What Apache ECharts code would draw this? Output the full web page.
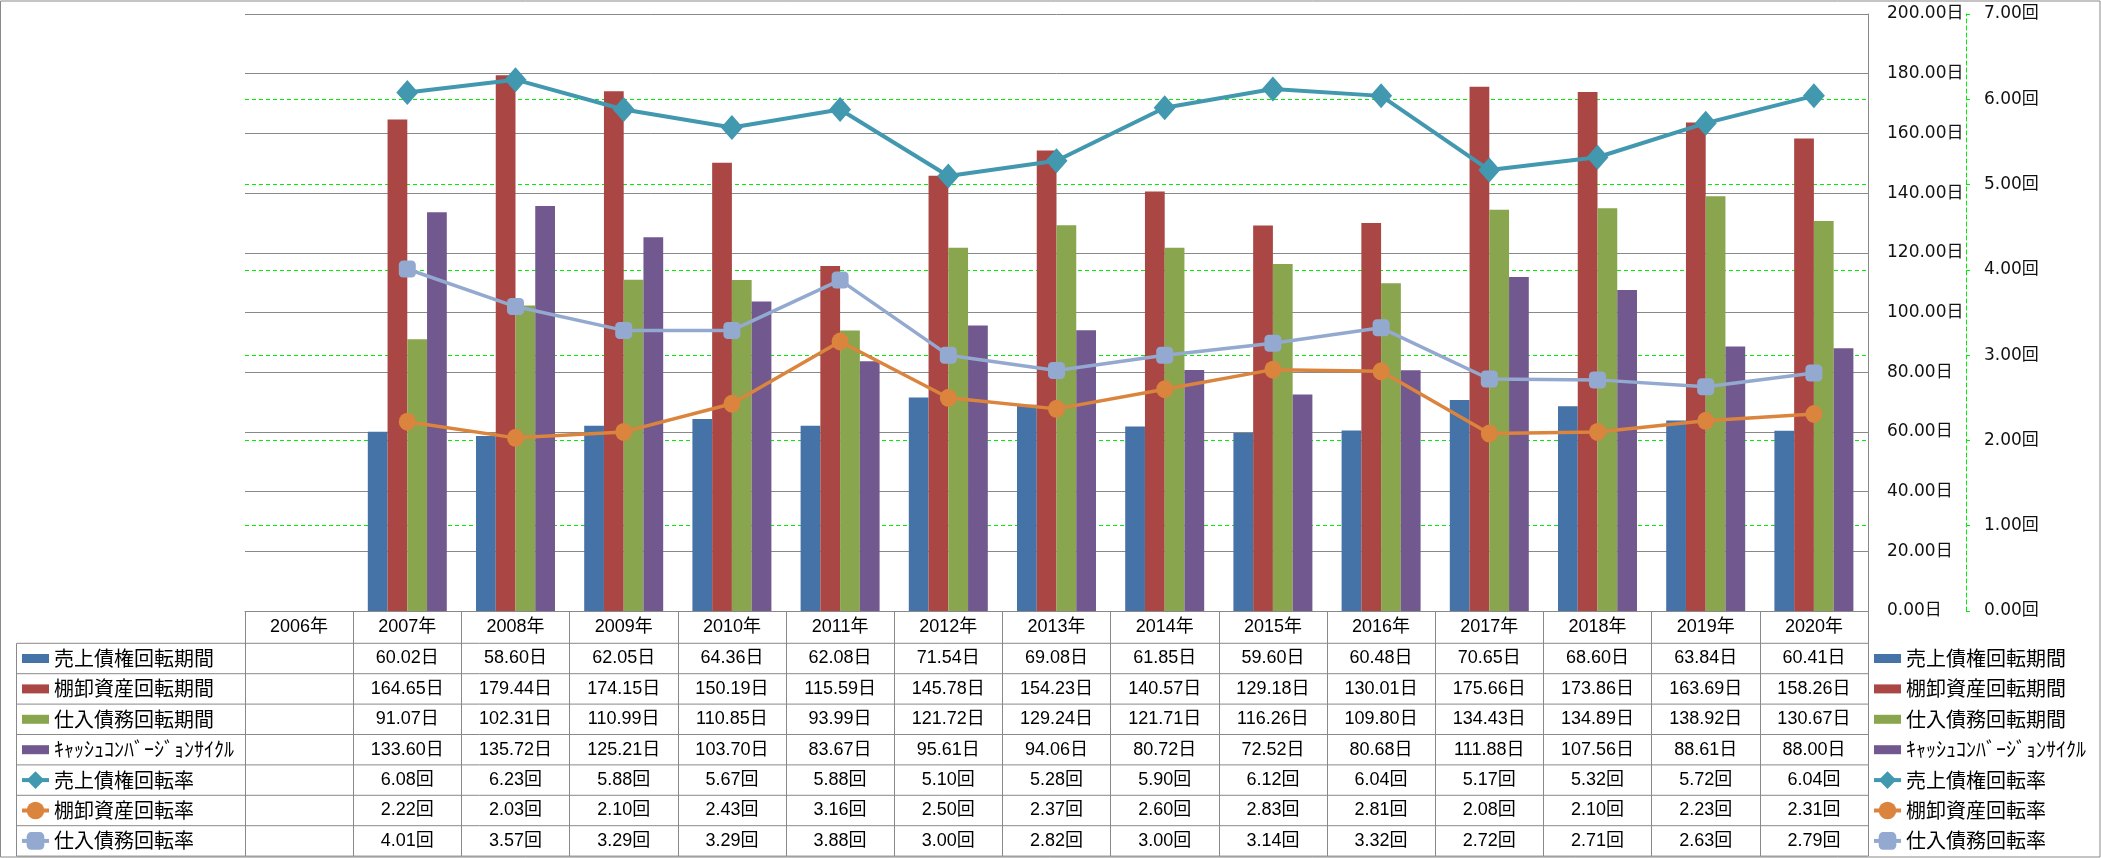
<!DOCTYPE html>
<html><head><meta charset="utf-8">
<script src="https://cdn.jsdelivr.net/npm/echarts@6/dist/echarts.min.js"></script>
<style>html,body{margin:0;padding:0;background:#fff}#c{width:2101px;height:858px}</style>
</head><body><div id="c"></div>
<script>
// ---- data ----
const years = ['2006年','2007年','2008年','2009年','2010年','2011年','2012年','2013年','2014年','2015年','2016年','2017年','2018年','2019年','2020年'];
const seriesNames = ['売上債権回転期間','棚卸資産回転期間','仕入債務回転期間','ｷｬｯｼｭｺﾝﾊﾞｰｼﾞｮﾝｻｲｸﾙ','売上債権回転率','棚卸資産回転率','仕入債務回転率'];
const arPeriod  = [null,60.02,58.60,62.05,64.36,62.08,71.54,69.08,61.85,59.60,60.48,70.65,68.60,63.84,60.41];
const invPeriod = [null,164.65,179.44,174.15,150.19,115.59,145.78,154.23,140.57,129.18,130.01,175.66,173.86,163.69,158.26];
const apPeriod  = [null,91.07,102.31,110.99,110.85,93.99,121.72,129.24,121.71,116.26,109.80,134.43,134.89,138.92,130.67];
const cccDays   = [null,133.60,135.72,125.21,103.70,83.67,95.61,94.06,80.72,72.52,80.68,111.88,107.56,88.61,88.00];
const arTurn    = [null,6.08,6.23,5.88,5.67,5.88,5.10,5.28,5.90,6.12,6.04,5.17,5.32,5.72,6.04];
const invTurn   = [null,2.22,2.03,2.10,2.43,3.16,2.50,2.37,2.60,2.83,2.81,2.08,2.10,2.23,2.31];
const apTurn    = [null,4.01,3.57,3.29,3.29,3.88,3.00,2.82,3.00,3.14,3.32,2.72,2.71,2.63,2.79];
const dayUnit = '日', timesUnit = '回';

// ---- layout / style ----
const W = 2101, H = 858;
const grid = {left: 245, right: 233, top: 14, bottom: 247};
const tableLeft = 16.5, rowTop = 643.3, rowH = 30.4, headH = 32.3;
const gray = '#898989';
const green = '#00ee00';
const barColors = ['#4572A7','#AA4643','#89A54E','#71588F'];
const lineColors = ['#4198AF','#DB843D','#93A9CF'];
const numFont = "'Liberation Sans','Noto Sans CJK JP',sans-serif";
const jpFont = "'Noto Sans CJK JP',sans-serif";
const axFont = "'DejaVu Sans','Noto Sans CJK JP',sans-serif";

const rows = [arPeriod, invPeriod, apPeriod, cccDays, arTurn, invTurn, apTurn];
const units = [dayUnit, dayUnit, dayUnit, dayUnit, timesUnit, timesUnit, timesUnit];

const chart = echarts.init(document.getElementById('c'), null, {renderer: 'canvas'});

const barSeries = [arPeriod, invPeriod, apPeriod, cccDays].map((d, i) => ({
  name: seriesNames[i], type: 'bar', yAxisIndex: 0, data: d,
  barGap: '0%', barCategoryGap: '27%',
  itemStyle: {color: barColors[i]}
}));
const symbols = ['diamond', 'circle', 'roundRect'];
const symSizes = [[22, 25], [17, 18], [17, 17]];
const lineWidths = [4, 3.5, 3.5];
const lineSeries = [arTurn, invTurn, apTurn].map((d, i) => ({
  name: seriesNames[4 + i], type: 'line', yAxisIndex: 1, data: d,
  symbol: symbols[i], symbolSize: symSizes[i], showAllSymbol: true,
  lineStyle: {color: lineColors[i], width: lineWidths[i]},
  itemStyle: {color: lineColors[i]}, z: 3
}));

const legendData = seriesNames.map((n, i) => i < 4 ? {name: n, icon: 'path://M0 0H27V9H0Z'} : {name: n});
function mkLegend(left) {
  return {
    orient: 'vertical', left: left, top: rowTop, padding: 0, itemGap: 0,
    itemWidth: 27, itemHeight: 22, data: legendData, selectedMode: false,
    textStyle: {fontFamily: jpFont, fontSize: 20, color: '#000', lineHeight: rowH},
    lineStyle: {width: 4}
  };
}

const gfx = [];
gfx.push({type: 'rect', shape: {x: 0.5, y: 1, width: W - 1.5, height: H - 2}, style: {fill: null, stroke: gray, lineWidth: 1}, silent: true});
for (let k = 0; k <= rows.length; k++) {
  const y = rowTop + k * rowH;
  gfx.push({type: 'line', shape: {x1: tableLeft, y1: y, x2: W - grid.right, y2: y}, style: {stroke: gray, lineWidth: 1}, silent: true});
}
gfx.push({type: 'line', shape: {x1: tableLeft, y1: rowTop, x2: tableLeft, y2: rowTop + rows.length * rowH}, style: {stroke: gray, lineWidth: 1}, silent: true});

chart.setOption({
  backgroundColor: '#fff',
  animation: false,
  grid: grid,
  legend: [mkLegend(20), mkLegend(1872)],
  xAxis: {
    type: 'category', data: years, boundaryGap: true,
    axisLine: {lineStyle: {color: gray, width: 1}},
    axisTick: {show: true, interval: 0, length: (rowTop + rows.length * rowH) - (H - grid.bottom), lineStyle: {color: gray, width: 1}},
    axisLabel: {
      interval: 0, margin: 0, color: '#000',
      formatter: function (val, idx) {
        let s = '{h|' + val + '}';
        rows.forEach((r, k) => {
          const v = r[idx];
          s += '\n{v|' + (v == null ? ' ' : v.toFixed(2) + units[k]) + '}';
        });
        return s;
      },
      rich: {
        h: {fontFamily: numFont, fontSize: 18, lineHeight: headH, color: '#000'},
        v: {fontFamily: numFont, fontSize: 18, lineHeight: rowH, color: '#000'}
      }
    },
    splitLine: {show: false}
  },
  yAxis: [
    {
      type: 'value', position: 'right', min: 0, max: 200, interval: 20, z: 1,
      axisLine: {show: true, lineStyle: {color: gray, width: 1}},
      axisTick: {show: false},
      axisLabel: {margin: 19, color: '#111', fontFamily: axFont, fontSize: 17,
        formatter: v => v.toFixed(2) + dayUnit},
      splitLine: {show: true, lineStyle: {color: gray, width: 1}}
    },
    {
      type: 'value', position: 'right', offset: 98, min: 0, max: 7, interval: 1, z: 0,
      axisLine: {show: true, lineStyle: {color: green, width: 1, type: [4, 3]}},
      axisTick: {show: true, length: 4, lineStyle: {color: green, width: 1}},
      axisLabel: {margin: 18, color: '#111', fontFamily: axFont, fontSize: 17,
        formatter: v => v.toFixed(2) + timesUnit},
      splitLine: {show: true, lineStyle: {color: green, width: 1, type: [4, 3]}}
    }
  ],
  series: barSeries.concat(lineSeries),
  graphic: gfx
});
</script></body></html>
